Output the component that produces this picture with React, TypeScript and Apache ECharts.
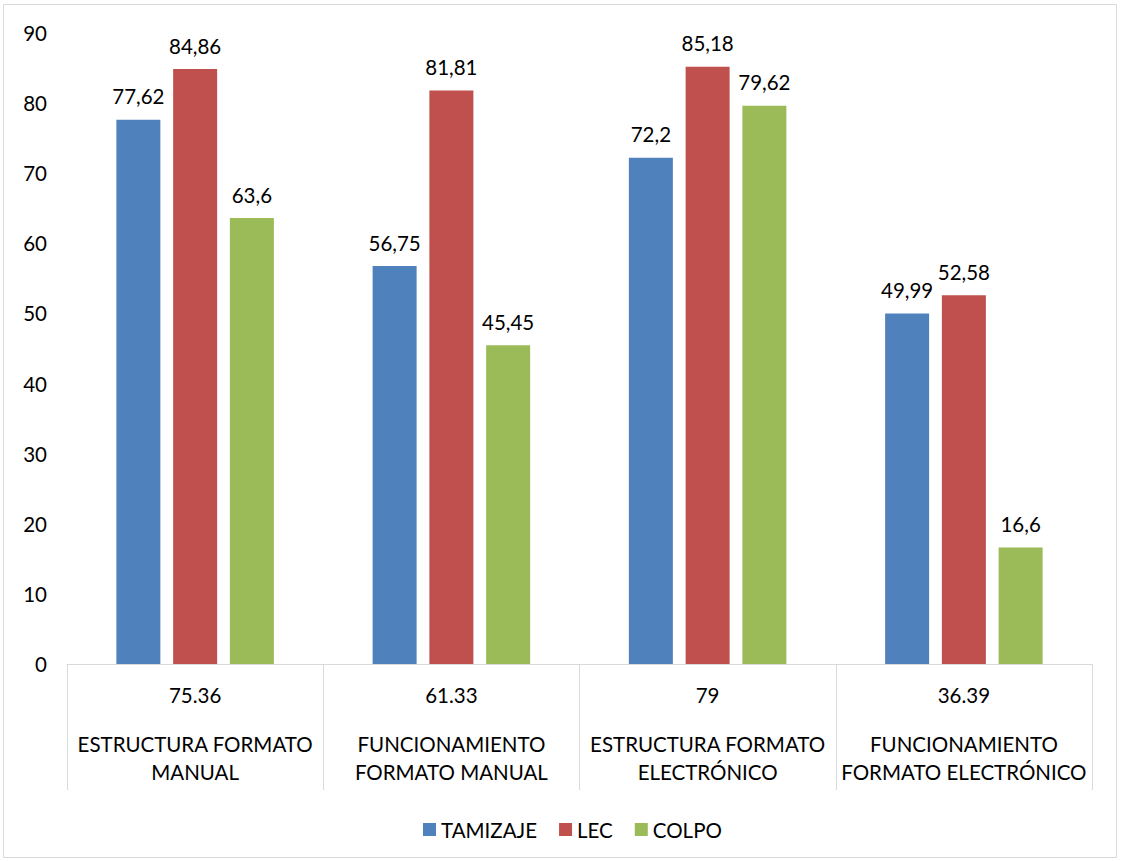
import React, { useEffect, useRef } from "react";
import * as echarts from "echarts";

// Category axis: the value shown on the first row and the two-line name below it
const categoryTotals = ["75.36", "61.33", "79", "36.39"];
const categoryNames = [
  ["ESTRUCTURA FORMATO", "MANUAL"],
  ["FUNCIONAMIENTO", "FORMATO MANUAL"],
  ["ESTRUCTURA FORMATO", "ELECTRÓNICO"],
  ["FUNCIONAMIENTO", "FORMATO ELECTRÓNICO"],
];

const seriesNames = ["TAMIZAJE", "LEC", "COLPO"];
const tamizaje = [77.62, 56.75, 72.2, 49.99];
const lec = [84.86, 81.81, 85.18, 52.58];
const colpo = [63.6, 45.45, 79.62, 16.6];

const yTicks = { min: 0, max: 90, interval: 10 };

const colors = ["#4F81BD", "#C0504D", "#9BBB59"];
const FONT = "Lato";
const FS = 20.5;

export default function App() {
  const ref = useRef<HTMLDivElement>(null);

  useEffect(() => {
    if (!ref.current) return;
    const chart = echarts.init(ref.current, undefined, { renderer: "svg" });

    const values = [tamizaje, lec, colpo];
    const catKeys = categoryNames.map((n) => n.join(" "));

    chart.setOption({
      animation: false,
      backgroundColor: "#ffffff",
      textStyle: { fontFamily: FONT },
      color: colors,
      graphic: [
        {
          type: "rect",
          shape: { x: 3.5, y: 4.5, width: 1113, height: 853 },
          style: { fill: "none", stroke: "#d9d9d9", lineWidth: 1 },
          silent: true,
        },
      ],
      grid: { left: 67, right: 30, top: 33, bottom: 197, containLabel: false },
      legend: {
        data: seriesNames,
        left: 418,
        top: 814,
        icon: "rect",
        itemWidth: 13,
        itemHeight: 13,
        itemGap: 22,
        textStyle: { fontSize: FS, color: "#000", fontFamily: FONT },
      },
      xAxis: {
        type: "category",
        data: catKeys,
        axisLine: { show: true, lineStyle: { color: "#d9d9d9", width: 1 } },
        axisTick: { show: true, length: 126, lineStyle: { color: "#d9d9d9", width: 1 } },
        axisLabel: {
          interval: 0,
          margin: 10,
          formatter: (_v: string, i: number) =>
            `{v|${categoryTotals[i]}}\n{s| }\n{c|${categoryNames[i][0]}}\n{c|${categoryNames[i][1]}}`,
          rich: {
            v: { fontSize: FS, lineHeight: 42, color: "#000", fontFamily: FONT },
            s: { fontSize: 10, lineHeight: 14, fontFamily: FONT },
            c: { fontSize: FS, lineHeight: 28, color: "#000", fontFamily: FONT },
          },
        },
      },
      yAxis: {
        type: "value",
        min: yTicks.min,
        max: yTicks.max,
        interval: yTicks.interval,
        splitLine: { show: false },
        axisLine: { show: false },
        axisTick: { show: false },
        axisLabel: { fontSize: FS, color: "#000", margin: 20, fontFamily: FONT },
      },
      series: seriesNames.map((name, k) => ({
        name,
        type: "bar",
        data: values[k],
        barWidth: 44,
        barGap: "29%",
        itemStyle: { color: colors[k] },
        label: {
          show: true,
          position: "top",
          distance: 13,
          fontSize: FS,
          color: "#000",
          fontFamily: FONT,
          formatter: (p: any) => String(p.value).replace(".", ","),
        },
      })),
    });

    return () => chart.dispose();
  }, []);

  return (
    <div
      ref={ref}
      style={{ position: "fixed", left: 0, top: 0, width: 1122, height: 861, background: "#fff" }}
    />
  );
}
